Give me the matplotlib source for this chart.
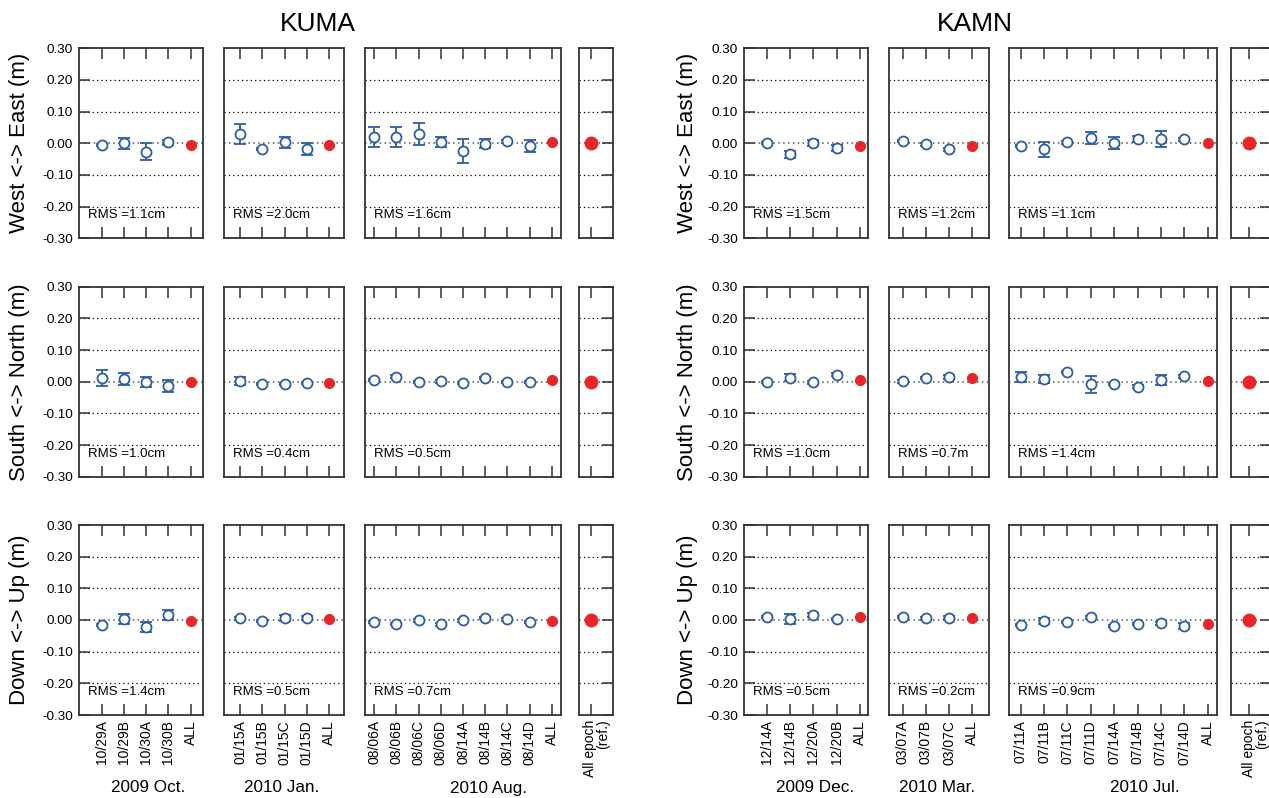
import matplotlib
matplotlib.use("Agg")
import matplotlib.pyplot as plt

plt.rcParams['font.family'] = ['Liberation Sans', 'DejaVu Sans']

W, H = 1269, 798

# ------------------------------------------------------------------ data
components = ["West <-> East (m)", "South <-> North (m)", "Down <-> Up (m)"]
yticks = [-0.30, -0.20, -0.10, 0.00, 0.10, 0.20, 0.30]

# KUMA
kuma_groups = ["2009 Oct.", "2010 Jan.", "2010 Aug."]
kuma_dates = [["10/29A", "10/29B", "10/30A", "10/30B"],
              ["01/15A", "01/15B", "01/15C", "01/15D"],
              ["08/06A", "08/06B", "08/06C", "08/06D", "08/14A", "08/14B", "08/14C", "08/14D"]]
# values per group: sessions followed by the group "ALL" solution
kuma_ew = [[-0.005, 0.000, -0.026, 0.003, -0.006],
           [0.030, -0.018, 0.003, -0.018, -0.004],
           [0.020, 0.020, 0.030, 0.004, -0.024, -0.001, 0.006, -0.008, 0.005]]
kuma_ew_err = [[0.004, 0.018, 0.028, 0.007, 0.004],
               [0.032, 0.004, 0.018, 0.020, 0.004],
               [0.031, 0.031, 0.034, 0.015, 0.039, 0.015, 0.004, 0.018, 0.005]]
kuma_ns = [[0.011, 0.008, -0.002, -0.013, -0.002],
           [0.002, -0.007, -0.008, -0.004, -0.004],
           [0.006, 0.016, -0.001, 0.001, -0.004, 0.012, -0.001, -0.001, 0.005]]
kuma_ns_err = [[0.026, 0.020, 0.016, 0.018, 0.004],
               [0.013, 0.004, 0.004, 0.004, 0.003],
               [0.004, 0.004, 0.004, 0.004, 0.004, 0.004, 0.004, 0.004, 0.003]]
kuma_ud = [[-0.016, 0.002, -0.022, 0.015, -0.003],
           [0.005, -0.003, 0.007, 0.007, 0.004],
           [-0.006, -0.012, -0.001, -0.014, -0.001, 0.006, 0.002, -0.006, -0.002]]
kuma_ud_err = [[0.004, 0.016, 0.015, 0.016, 0.004],
               [0.004, 0.004, 0.010, 0.006, 0.003],
               [0.004, 0.004, 0.004, 0.004, 0.004, 0.004, 0.004, 0.004, 0.003]]
kuma_rms = [["1.1cm", "2.0cm", "1.6cm"],
            ["1.0cm", "0.4cm", "0.5cm"],
            ["1.4cm", "0.5cm", "0.7cm"]]
kuma_ref = [0.0, 0.0, 0.0]

# KAMN
kamn_groups = ["2009 Dec.", "2010 Mar.", "2010 Jul."]
kamn_dates = [["12/14A", "12/14B", "12/20A", "12/20B"],
              ["03/07A", "03/07B", "03/07C"],
              ["07/11A", "07/11B", "07/11C", "07/11D", "07/14A", "07/14B", "07/14C", "07/14D"]]
kamn_ew = [[0.001, -0.035, 0.001, -0.015, -0.008],
           [0.007, -0.003, -0.019, -0.010],
           [-0.008, -0.019, 0.003, 0.016, 0.001, 0.014, 0.013, 0.013, 0.002]]
kamn_ew_err = [[0.004, 0.011, 0.010, 0.010, 0.004],
               [0.004, 0.004, 0.005, 0.004],
               [0.004, 0.024, 0.004, 0.019, 0.020, 0.010, 0.026, 0.005, 0.003]]
kamn_ns = [[-0.001, 0.013, -0.002, 0.022, 0.005],
           [0.001, 0.011, 0.015, 0.012],
           [0.016, 0.009, 0.031, -0.008, -0.008, -0.016, 0.004, 0.017, 0.003]]
kamn_ns_err = [[0.004, 0.010, 0.004, 0.004, 0.003],
               [0.004, 0.004, 0.005, 0.003],
               [0.016, 0.012, 0.004, 0.027, 0.004, 0.004, 0.016, 0.005, 0.003]]
kamn_ud = [[0.009, 0.003, 0.016, 0.003, 0.009],
           [0.010, 0.006, 0.007, 0.007],
           [-0.016, -0.003, -0.007, 0.008, -0.019, -0.012, -0.011, -0.018, -0.012]]
kamn_ud_err = [[0.004, 0.016, 0.005, 0.004, 0.004],
               [0.004, 0.005, 0.005, 0.007],
               [0.004, 0.010, 0.004, 0.004, 0.004, 0.004, 0.005, 0.010, 0.004]]
kamn_rms = [["1.5cm", "1.2cm", "1.1cm"],
            ["1.0cm", "0.7m", "1.4cm"],
            ["0.5cm", "0.2cm", "0.9cm"]]
kamn_ref = [0.0, 0.0, 0.0]

# ------------------------------------------------------------------ layout (pixels)
row_tops = [48.3, 286.7, 525.0]
row_h = 190.0
# (left px, right px, xmin, xmax) for each panel
kuma_panels = [(79.3, 203.3, 0.0, 5.57), (224.0, 344.0, 0.28, 5.66),
               (365.0, 561.0, 0.58, 9.42), (579.3, 612.7, 0.49, 1.99)]
kamn_panels = [(744.0, 867.7, 0.03, 5.33), (889.3, 988.5, 0.42, 4.70),
               (1009.3, 1217.3, 0.51, 9.41), (1230.7, 1271.0, 0.2, 1.93)]
kuma_glabel_x = [148, 282, 489]
kamn_glabel_x = [815, 937, 1145]

BLUE = '#2d5ca8'
RED = '#e8262a'
FRAME = '#333333'

fig = plt.figure(figsize=(W / 100, H / 100), dpi=100)


def add_px_axes(x0, x1, ytop, h):
    return fig.add_axes([x0 / W, 1 - (ytop + h) / H, (x1 - x0) / W, h / H])


def style_axes(ax, xlim):
    ax.set_xlim(*xlim)
    ax.set_ylim(-0.30, 0.30)
    for s in ax.spines.values():
        s.set_color(FRAME)
        s.set_linewidth(1.3)
    for yv in [-0.2, -0.1, 0.1, 0.2]:
        ax.axhline(yv, color='black', lw=0.9, ls=(0, (1, 2.5)), zorder=1)
    ax.axhline(0.0, color='#555555', lw=1.1, ls=(0, (1, 2.2)), zorder=1)


def draw_station(title, title_x, label_x, groups, dates, comps, errs, rms, ref,
                 panels, glabel_x):
    fig.text(title_x / W, 1 - 24 / H, title, ha='center', va='center', fontsize=19)
    for r in range(3):
        top = row_tops[r]
        fig.text(label_x / W, 1 - (top + row_h / 2) / H, components[r],
                 rotation=90, ha='center', va='center', fontsize=16)
        for g in range(3):
            x0, x1, xmin, xmax = panels[g]
            ax = add_px_axes(x0, x1, top, row_h)
            style_axes(ax, (xmin, xmax))
            vals = comps[r][g]
            ers = errs[r][g]
            n = len(vals)
            xs = list(range(1, n + 1))
            ax.errorbar(xs[:-1], vals[:-1], yerr=ers[:-1], fmt='o', ms=7.2,
                        mfc='white', mec=BLUE, mew=1.3, ecolor=BLUE,
                        elinewidth=1.3, capsize=4, capthick=1.3, zorder=3)
            ax.errorbar(xs[-1:], vals[-1:], yerr=ers[-1:], fmt='o', ms=7,
                        mfc=RED, mec=RED, ecolor=RED, elinewidth=1.3,
                        capsize=3, capthick=1.3, zorder=4)
            ax.text(xmin, -0.228, "RMS =" + rms[r][g], fontsize=9.5,
                    ha='left', va='center',
                    transform=ax.transData)
            # shift RMS text a little right of the spine via offset
            ax.texts[-1].set_x(xmin + (xmax - xmin) * 9 / (x1 - x0))
            ax.set_xticks(xs)
            ax.tick_params(axis='x', which='both', direction='in', length=8,
                           width=1.1, color=FRAME, top=True, bottom=True,
                           labeltop=False)
            if r == 2:
                ax.set_xticklabels(dates[g] + ["ALL"], rotation=90,
                                   fontsize=10, va='top', ha='center')
                ax.tick_params(axis='x', pad=3.6)
                fig.text(glabel_x[g] / W, 1 - 788 / H, groups[g],
                         ha='center', va='center', fontsize=12.3)
            else:
                ax.set_xticklabels([])
            if g == 0:
                ax.set_yticks(yticks)
                ax.set_yticklabels([f"{v:.2f}" for v in yticks], fontsize=9.7)
                ax.tick_params(axis='y', direction='in', length=8, width=1.1,
                               color=FRAME, left=True, right=False, pad=4.5)
            else:
                ax.set_yticks([])
        # reference panel
        x0, x1, xmin, xmax = panels[3]
        ax = add_px_axes(x0, x1, top, row_h)
        style_axes(ax, (xmin, xmax))
        ax.plot([1], [ref[r]], 'o', ms=9, color=RED, zorder=4)
        ax.set_xticks([1])
        ax.tick_params(axis='x', direction='in', length=8, width=1.1,
                       color=FRAME, top=True, bottom=True, labeltop=False)
        ax.set_xticklabels([])
        ax.set_yticks(yticks)
        ax.tick_params(axis='y', direction='in', length=8, width=1.1,
                       color=FRAME, left=False, right=True,
                       labelleft=False, labelright=False)
        if r == 2:
            tx = (x0 + (1 - xmin) / (xmax - xmin) * (x1 - x0)) - 7.5
            fig.text(tx / W, 1 - 719.5 / H, "All epoch\n(ref.)", rotation=90,
                     ha='left', va='top', multialignment='right', fontsize=10,
                     linespacing=0.95)


draw_station("KUMA", 318, 20, kuma_groups, kuma_dates,
             [kuma_ew, kuma_ns, kuma_ud], [kuma_ew_err, kuma_ns_err, kuma_ud_err],
             kuma_rms, kuma_ref, kuma_panels, kuma_glabel_x)
draw_station("KAMN", 975, 688, kamn_groups, kamn_dates,
             [kamn_ew, kamn_ns, kamn_ud], [kamn_ew_err, kamn_ns_err, kamn_ud_err],
             kamn_rms, kamn_ref, kamn_panels, kamn_glabel_x)

fig.savefig("out.png", dpi=100)
